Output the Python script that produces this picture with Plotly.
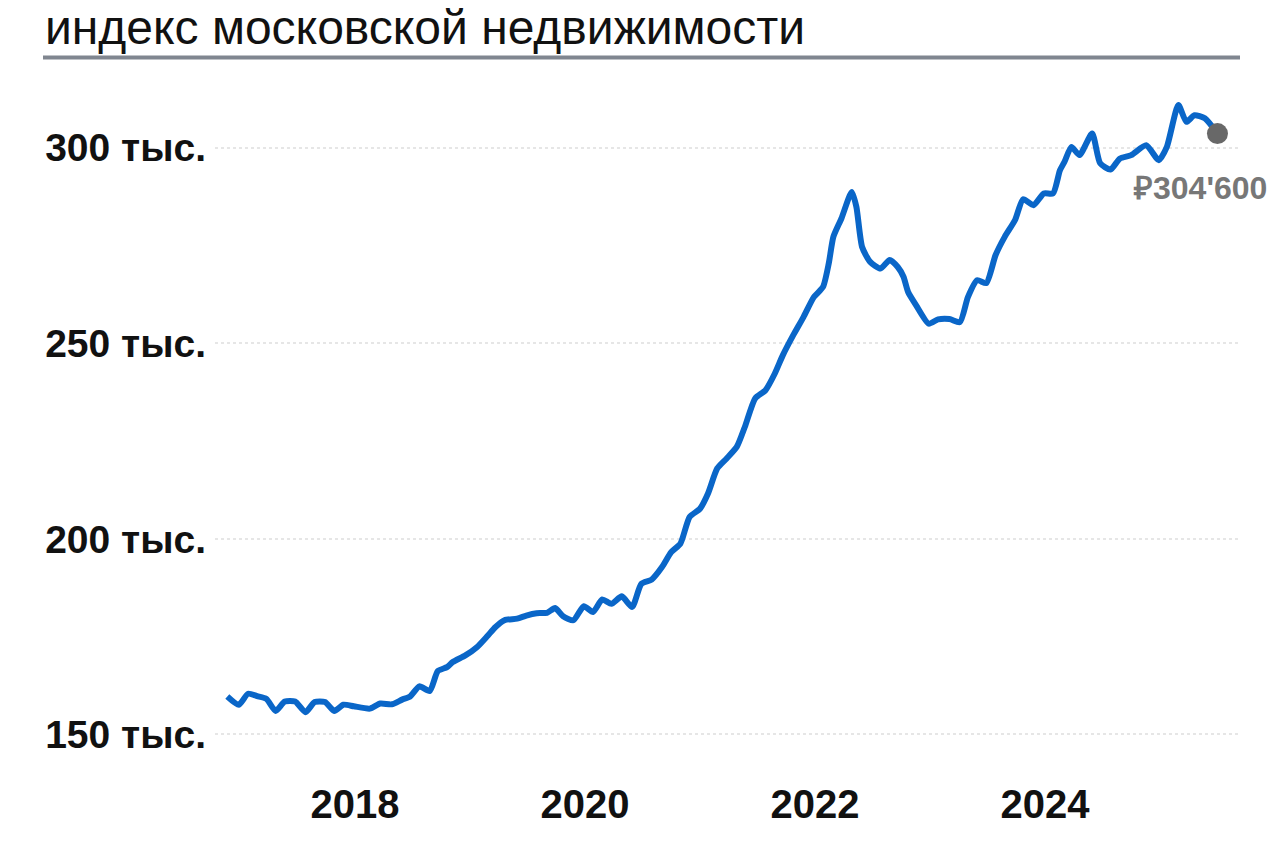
import plotly.graph_objects as go

# Time (decimal years) and index values (thousand RUB)
years = [2016.89, 2016.99, 2017.07, 2017.15, 2017.23, 2017.31, 2017.39, 2017.48, 2017.57, 2017.65,
         2017.74, 2017.82, 2017.90, 2017.99, 2018.13, 2018.22, 2018.32, 2018.41, 2018.48, 2018.56,
         2018.65, 2018.72, 2018.80, 2018.85, 2018.96, 2019.06, 2019.15, 2019.22, 2019.30, 2019.41,
         2019.49, 2019.58, 2019.67, 2019.74, 2019.81, 2019.90, 2019.99, 2020.07, 2020.15, 2020.23,
         2020.32, 2020.41, 2020.49, 2020.58, 2020.67, 2020.75, 2020.83, 2020.91, 2021.00, 2021.07,
         2021.15, 2021.23, 2021.32, 2021.39, 2021.48, 2021.57, 2021.65, 2021.72, 2021.81, 2021.90,
         2021.99, 2022.07, 2022.12, 2022.16, 2022.23, 2022.32, 2022.36, 2022.41, 2022.48, 2022.57,
         2022.65, 2022.72, 2022.77, 2022.81, 2022.88, 2022.99, 2023.07, 2023.17, 2023.26, 2023.33,
         2023.41, 2023.49, 2023.57, 2023.65, 2023.74, 2023.81, 2023.90, 2023.99, 2024.07, 2024.13,
         2024.17, 2024.23, 2024.30, 2024.41, 2024.48, 2024.57, 2024.65, 2024.75, 2024.88, 2024.99,
         2025.06, 2025.16, 2025.23, 2025.30, 2025.39, 2025.50]
values = [159.7, 157.6, 160.4, 159.8, 159.1, 156.0, 158.4, 158.4, 155.7, 158.3,
          158.3, 156.0, 157.6, 157.2, 156.6, 157.9, 157.7, 158.9, 159.7, 162.3,
          161.1, 166.2, 167.2, 168.5, 170.2, 172.3, 175.1, 177.4, 179.2, 179.6,
          180.4, 181.0, 181.1, 182.3, 180.2, 179.2, 182.8, 181.3, 184.5, 183.4,
          185.3, 182.6, 188.5, 189.6, 192.8, 196.6, 198.8, 205.6, 207.7, 211.6,
          218.0, 220.5, 223.5, 228.6, 235.9, 238.0, 242.2, 246.9, 252.0, 256.7,
          261.8, 264.4, 270.4, 277.2, 281.9, 288.7, 284.9, 274.6, 270.8, 269.1,
          271.3, 269.5, 267.0, 263.1, 259.7, 255.0, 256.1, 256.2, 255.4, 261.8,
          266.1, 265.4, 272.5, 277.2, 281.5, 286.8, 285.3, 288.3, 288.3, 294.2,
          296.4, 300.2, 298.1, 303.6, 296.0, 294.4, 297.2, 298.1, 300.6, 296.8,
          300.2, 310.9, 306.6, 308.3, 307.5, 303.6]

y_ticks = [150, 200, 250, 300]
y_tick_labels = ["150 тыс.", "200 тыс.", "250 тыс.", "300 тыс."]
x_ticks = [2018, 2020, 2022, 2024]
x_tick_labels = ["2018", "2020", "2022", "2024"]
last_label = "₽304'600"
title_text = "индекс московской недвижимости"

FONT = "Liberation Sans, Arial, sans-serif"

fig = go.Figure()
fig.add_trace(go.Scatter(
    x=years, y=values, mode="lines",
    line=dict(color="#0a66c8", width=6, shape="spline", smoothing=0.6),
    hoverinfo="skip", showlegend=False,
))
fig.add_trace(go.Scatter(
    x=[years[-1]], y=[values[-1]], mode="markers",
    marker=dict(color="#686868", size=21),
    cliponaxis=False, hoverinfo="skip", showlegend=False,
))

fig.add_annotation(
    x=years[-1], y=values[-1], xref="x", yref="y",
    text=last_label, showarrow=False,
    xanchor="center", yanchor="top", xshift=-17, yshift=-34,
    font=dict(family=FONT, size=32, color="#777777", weight="bold"),
)

fig.update_layout(
    width=1280, height=844,
    margin=dict(l=215, r=40, t=89, b=90),
    paper_bgcolor="white", plot_bgcolor="white",
    title=dict(
        text=title_text, xref="container", yref="container",
        x=45 / 1280, xanchor="left", y=1 - 27 / 844, yanchor="middle",
        font=dict(family=FONT, size=48, color="#111111"),
        pad=dict(l=0, r=0, t=0, b=0),
    ),
    xaxis=dict(
        range=[2016.783, 2025.696], tickmode="array", tickvals=x_ticks, ticktext=x_tick_labels,
        showgrid=False, zeroline=False, showline=False, ticks="",
        tickfont=dict(family=FONT, size=40, color="#111111", weight="bold"),
        ticklabelstandoff=23,
    ),
    yaxis=dict(
        range=[145, 315], tickmode="array", tickvals=y_ticks, ticktext=y_tick_labels,
        showgrid=True, gridcolor="#e6e6e6", gridwidth=2, griddash="dot",
        zeroline=False, showline=False, ticks="",
        tickfont=dict(family=FONT, size=39, color="#111111", weight="bold"),
        ticklabelstandoff=8,
    ),
    shapes=[dict(
        type="line", xref="paper", yref="paper",
        x0=(43 - 215) / 1025, x1=(1240 - 215) / 1025,
        y0=(753.6 - 57) / 665, y1=(753.6 - 57) / 665,
        line=dict(color="#808690", width=4),
    )],
)

fig.write_html(
    "out.html",
    config={"displayModeBar": False},
    post_script="document.body.style.margin='0';document.body.style.overflow='hidden';",
)
